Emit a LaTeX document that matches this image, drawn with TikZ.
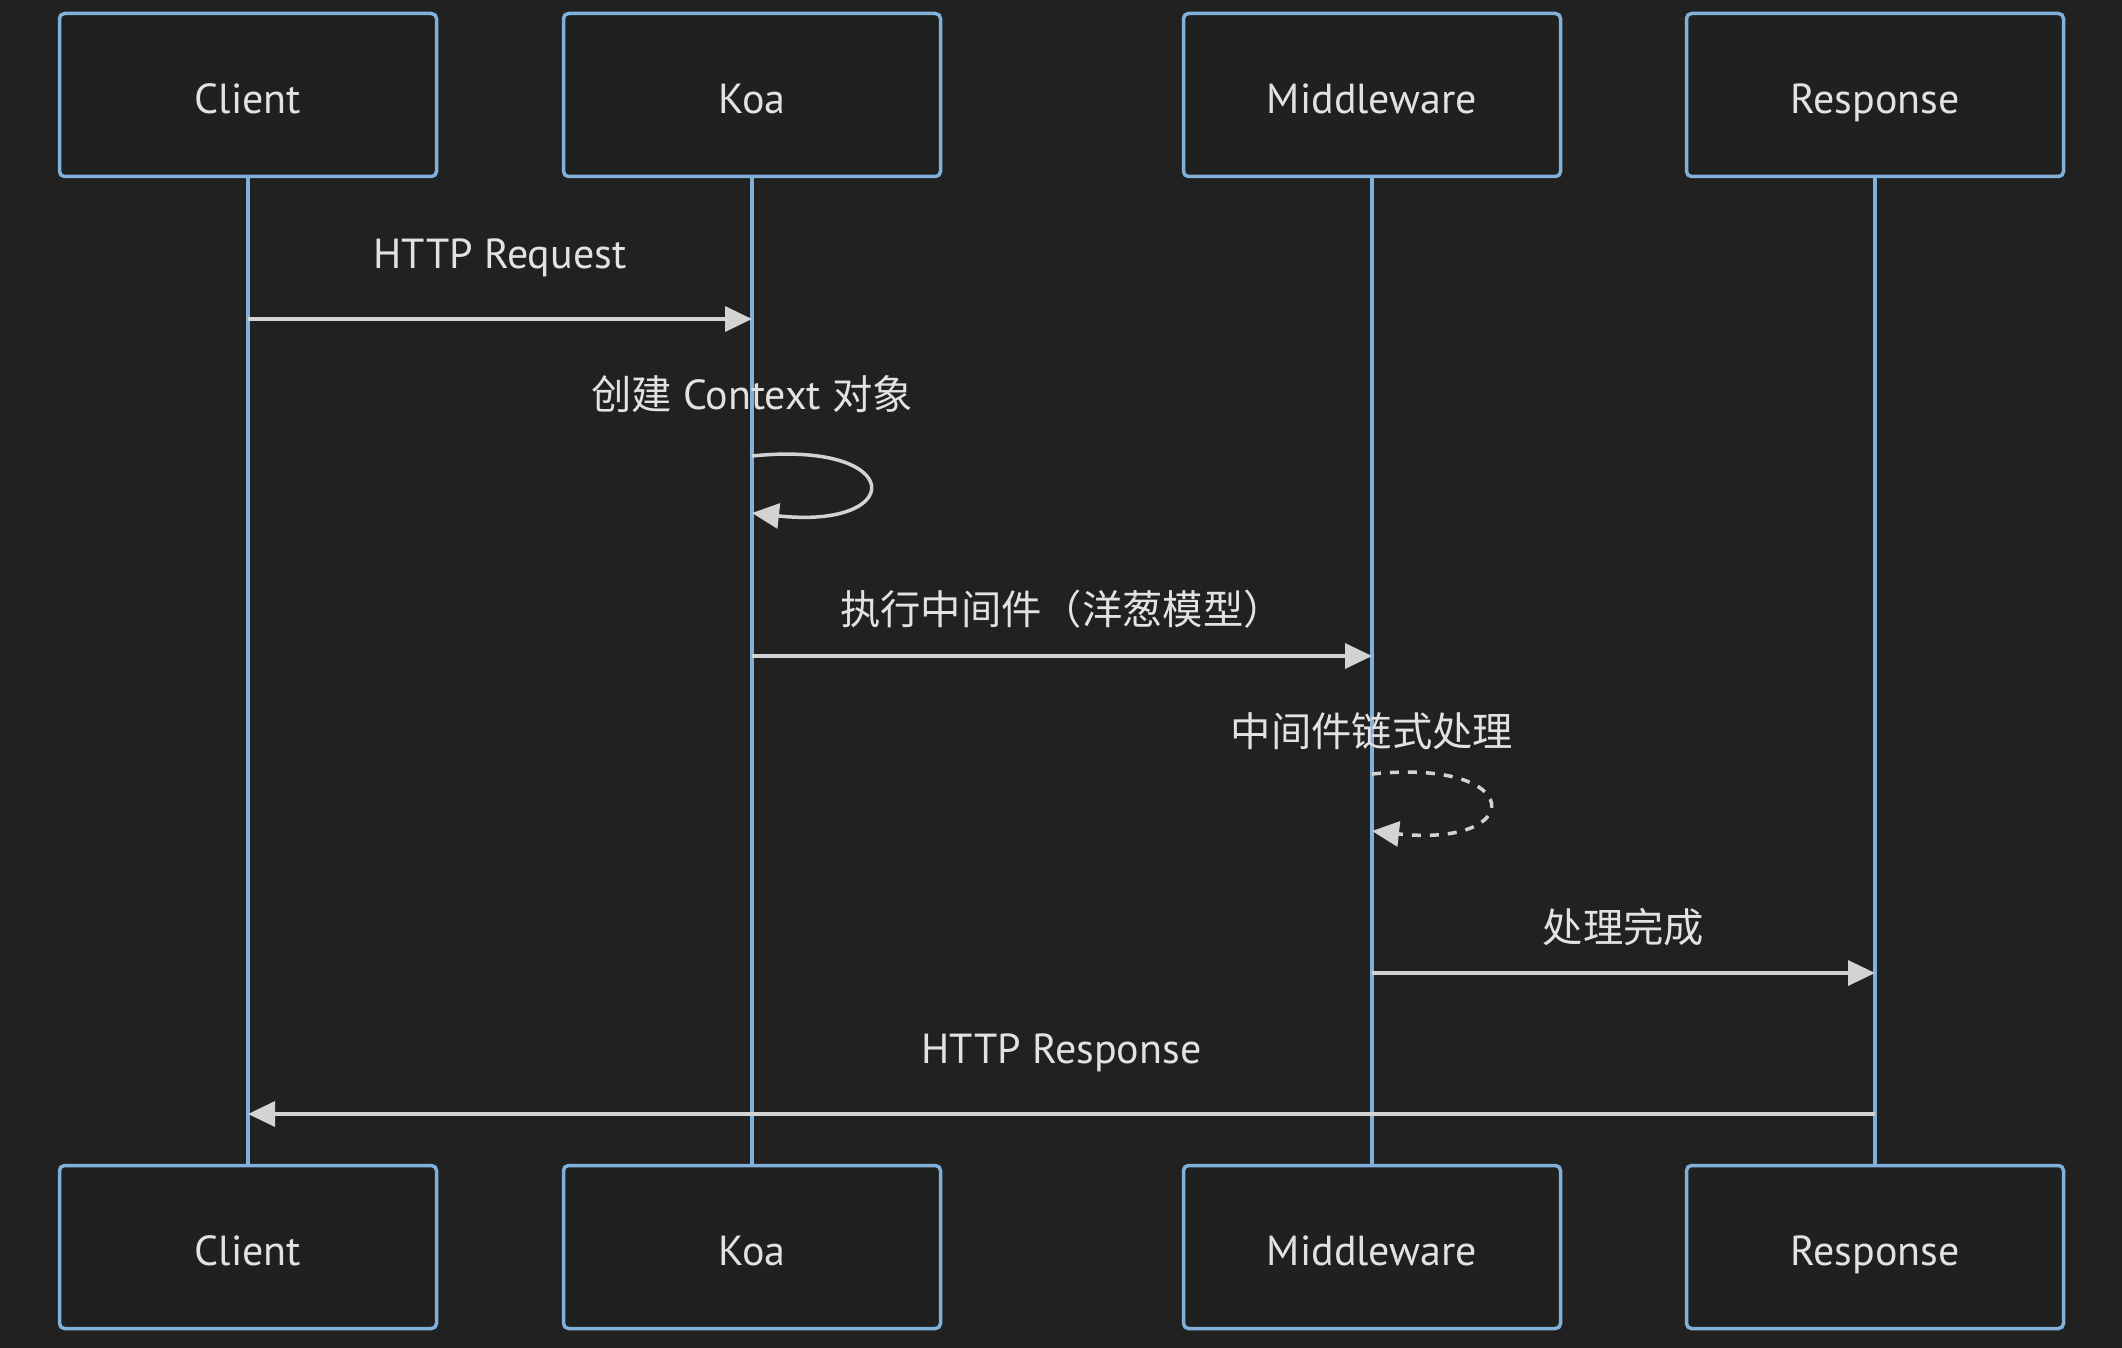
\documentclass[tikz,border=0pt]{standalone}
\usepackage{fontspec}
\setmainfont{PT Sans}
\newfontfamily\cjk[Scale=0.96]{Noto Sans CJK SC}
\usetikzlibrary{positioning}
\usetikzlibrary{arrows.meta}

\definecolor{bgcol}{HTML}{212121}
\definecolor{boxfill}{HTML}{1F2020}
\definecolor{lineblue}{HTML}{81B1DB}
\definecolor{txtcol}{HTML}{E2E2E2}
\definecolor{arrowcol}{HTML}{D3D3D3}

\tikzset{
  actor/.style={draw=lineblue, fill=boxfill, line width=3.5pt, rounded corners=5pt,
    minimum width=377pt, minimum height=163pt, inner sep=0pt, text=txtcol,
    text height=39pt, text depth=2pt},
  life/.style={lineblue, line width=4pt},
  msg/.style={arrowcol, line width=3.5pt, -{Triangle[length=27pt,width=25pt]}},
  lbl/.style={text=txtcol, inner sep=0pt}
}

\begin{document}
\begin{tikzpicture}[x=1pt, y=-1pt, font=\fontsize{42}{50}\selectfont]
	% background, fixes the size of the page
	\fill[bgcol] (0,0) rectangle (2122,1348);

	% participants, top and bottom
	\foreach \name/\txt/\x in {client/Client/248, koa/Koa/752, mw/Middleware/1372, resp/Response/1875} {
		\node[actor] (\name-top) at (\x,95) {\txt};
		\node[actor] (\name-bot) at (\x,1247) {\txt};
	}

	% lifelines
	\foreach \name in {client, koa, mw, resp} {
		\draw[life] (\name-top) -- (\name-bot);
	}

	% rows of the messages
	\coordinate (r1) at (0,319);
	\coordinate (r2) at (0,456);
	\coordinate (r2e) at (0,513);
	\coordinate (r3) at (0,656);
	\coordinate (r4) at (0,774);
	\coordinate (r4e) at (0,831);
	\coordinate (r5) at (0,973);
	\coordinate (r6) at (0,1114);

	\draw[msg] (client-top |- r1) -- node[lbl, midway, yshift=61pt] (reqlbl) {HTTP Request} (koa-top |- r1);

	% self call on Koa
	\draw[msg] (koa-top |- r2) .. controls +(155,-16) and +(155,17) .. (koa-top |- r2e);
	\node[lbl, yshift=62pt] (ctxlbl) at (koa-top |- r2) {{\cjk 创建} Context {\cjk 对象}};

	\draw[msg] (koa-top |- r3) -- node[lbl, midway, yshift=47pt] (runlbl) {\cjk 执行中间件（洋葱模型）} (mw-top |- r3);

	% self call on Middleware
	\draw[msg, dash pattern=on 9pt off 9pt] (mw-top |- r4) .. controls +(155,-16) and +(155,17) .. (mw-top |- r4e);
	\node[lbl, yshift=43pt] (chainlbl) at (mw-top |- r4) {\cjk 中间件链式处理};

	\draw[msg] (mw-top |- r5) -- node[lbl, midway, yshift=46pt] (donelbl) {\cjk 处理完成} (resp-top |- r5);
	\draw[msg] (resp-top |- r6) -- node[lbl, midway, yshift=61pt] (resplbl) {HTTP Response} (client-top |- r6);
\end{tikzpicture}
\end{document}
